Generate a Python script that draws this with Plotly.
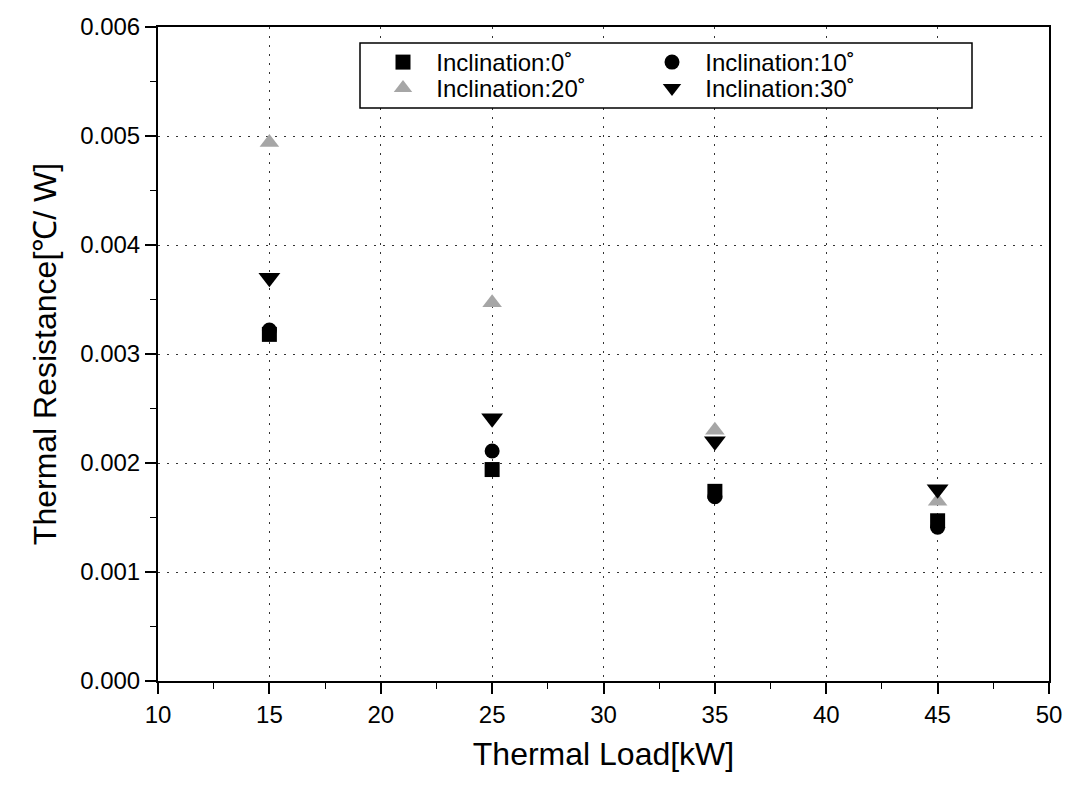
import plotly.graph_objects as go

loads = [15, 25, 35, 45]
r_0 = [0.00318, 0.00194, 0.00174, 0.00147]
r_10 = [0.00322, 0.00211, 0.00169, 0.00141]
r_20 = [0.00494, 0.00347, 0.00230, 0.00165]
r_30 = [0.00370, 0.00241, 0.00220, 0.00176]
names = ["Inclination:0˚", "Inclination:10˚", "Inclination:20˚", "Inclination:30˚"]

FONT = "Liberation Sans, Arial, sans-serif"
NB = "\u00a0\u00a0"

fig = go.Figure()
fig.add_trace(go.Scatter(x=loads, y=r_0, mode="markers", name=NB + names[0],
                         marker=dict(symbol="square", size=15, color="black", line=dict(width=0)),
                         legend="legend"))
fig.add_trace(go.Scatter(x=loads, y=r_10, mode="markers", name=NB + names[1],
                         marker=dict(symbol="circle", size=15, color="black", line=dict(width=0)),
                         legend="legend2"))
fig.add_trace(go.Scatter(x=loads, y=r_20, mode="markers", name=NB + names[2],
                         marker=dict(symbol="triangle-up", size=17, color="#a6a6a6", line=dict(width=0)),
                         legend="legend3"))
fig.add_trace(go.Scatter(x=loads, y=r_30, mode="markers", name=NB + names[3],
                         marker=dict(symbol="triangle-down", size=19, color="black", line=dict(width=0)),
                         legend="legend4"))

L, R, T, B = 158, 39, 27, 104
W, H = 1088, 785
pw, ph = W - L - R, H - T - B

def px_x(x):
    return (x - L) / pw

def px_y(y):
    return 1 - (y - T) / ph

legend_common = dict(font=dict(family=FONT, size=24, color="black"), bgcolor="rgba(0,0,0,0)",
                     borderwidth=0, xanchor="left", yanchor="top", orientation="v",
                     tracegroupgap=0, itemsizing="trace")

axis_common = dict(
    showline=True, linecolor="black", linewidth=2, mirror=True,
    ticks="outside", ticklen=11, tickwidth=1.5, tickcolor="black",
    showgrid=True, gridcolor="#333", gridwidth=1, griddash="2px,7px",
    zeroline=False,
    tickfont=dict(family=FONT, size=24),
)

fig.update_layout(
    width=W, height=H,
    margin=dict(l=L, r=R, t=T, b=B),
    paper_bgcolor="white", plot_bgcolor="white",
    font=dict(family=FONT, color="black"),
    showlegend=True,
    legend=dict(x=px_x(383), y=px_y(40), **legend_common),
    legend2=dict(x=px_x(652), y=px_y(40), **legend_common),
    legend3=dict(x=px_x(383), y=px_y(66), **legend_common),
    legend4=dict(x=px_x(652), y=px_y(66), **legend_common),
    xaxis=dict(
        range=[10, 50], dtick=5, tick0=10,
        minor=dict(dtick=2.5, ticks="outside", ticklen=6, tickwidth=1.2, tickcolor="black", showgrid=False),
        title=dict(text="Thermal Load[kW]", font=dict(family=FONT, size=32), standoff=16),
        **axis_common,
    ),
    yaxis=dict(
        range=[0, 0.006], dtick=0.001, tick0=0, tickformat=".3f",
        minor=dict(dtick=0.0005, ticks="outside", ticklen=6, tickwidth=1.2, tickcolor="black", showgrid=False),
        title=dict(text="Thermal Resistance[℃/ W]", font=dict(family=FONT, size=32), standoff=14),
        **axis_common,
    ),
)

fig.add_shape(type="rect", xref="paper", yref="paper",
              x0=px_x(360), x1=px_x(972), y0=px_y(108), y1=px_y(43),
              line=dict(color="black", width=1.5), fillcolor="white", layer="above")

fig.write_html("out.html")
